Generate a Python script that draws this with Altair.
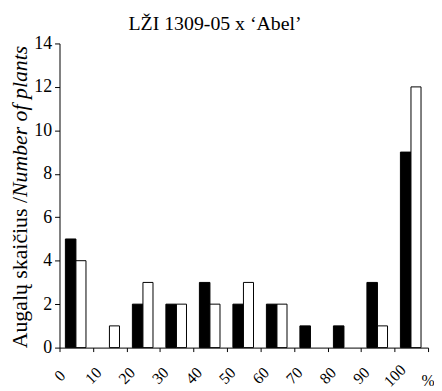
import altair as alt
import pandas as pd

bin_labels = ["0", "10", "20", "30", "40", "50", "60", "70", "80", "90", "100"]
black_counts = [5, 0, 2, 2, 3, 2, 2, 1, 1, 3, 9]
white_counts = [4, 1, 3, 2, 2, 3, 2, 0, 0, 1, 12]
y_ticks = [0, 2, 4, 6, 8, 10, 12, 14]

rows = []
for i, lab in enumerate(bin_labels):
    rows.append({"bin": i, "series": "black", "value": black_counts[i]})
    rows.append({"bin": i, "series": "white", "value": white_counts[i]})
df = pd.DataFrame(rows)
df = df[df["value"] > 0]

FONT = "Liberation Serif"
n = len(bin_labels)

xscale = alt.Scale(domain=[0, n + 0.0], nice=False, zero=False)
yscale = alt.Scale(domain=[0, 14], nice=False)

label_arr = "[" + ",".join("'" + s + "'" for s in bin_labels) + "]"

base = alt.Chart(df).transform_calculate(
    x0="datum.series == 'black' ? datum.bin + 0.175 : datum.bin + 0.49",
    x1="datum.series == 'black' ? datum.bin + 0.49 : datum.bin + 0.79",
)

bars = base.mark_bar(stroke="black", strokeWidth=1).encode(
    x=alt.X(
        "x0:Q",
        scale=xscale,
        axis=alt.Axis(
            values=list(range(n + 1)),
            labelExpr=f"datum.value < {n} ? {label_arr}[datum.value] : ''",
            labelAngle=-45,
            labelAlign="center",
            labelBaseline="middle",
            labelPadding=24,
            labelFont=FONT,
            labelFontSize=16,
            labelColor="black",
            tickColor="black",
            tickSize=4,
            domainColor="black",
            grid=False,
            title=None,
        ),
    ),
    x2="x1:Q",
    y=alt.Y(
        "value:Q",
        scale=yscale,
        axis=alt.Axis(
            values=y_ticks,
            labelFont=FONT,
            labelFontSize=18,
            labelColor="black",
            labelPadding=3,
            tickColor="black",
            tickSize=5,
            domainColor="black",
            grid=False,
            title=None,
        ),
    ),
    y2=alt.datum(0),
    fill=alt.Fill(
        "series:N",
        scale=alt.Scale(domain=["black", "white"], range=["black", "white"]),
        legend=None,
    ),
)

title_txt = alt.Chart(pd.DataFrame({"t": ["LŽI 1309-05 x ‘Abel’"]})).mark_text(
    font=FONT, fontSize=20, color="black", align="center", baseline="alphabetic"
).encode(text="t:N", x=alt.value(157), y=alt.value(-14))

ytitle_plain = alt.Chart(pd.DataFrame({"t": ["Augalų skaičius /\u00a0"]})).mark_text(
    font=FONT, fontSize=22, color="black", align="right", baseline="middle", angle=270
).encode(text="t:N", x=alt.value(-40), y=alt.value(155))

ytitle_italic = alt.Chart(pd.DataFrame({"t": ["Number of plants"]})).mark_text(
    font=FONT, fontSize=22, fontStyle="italic", color="black", align="left",
    baseline="middle", angle=270
).encode(text="t:N", x=alt.value(-40), y=alt.value(155))

pct = alt.Chart(pd.DataFrame({"t": ["%"]})).mark_text(
    font=FONT, fontSize=16, color="black", align="center", baseline="middle"
).encode(text="t:N", x=alt.value(372), y=alt.value(341))

chart = alt.layer(bars, title_txt, ytitle_plain, ytitle_italic, pct).properties(
    width=372,
    height=307,
    padding={"left": 52, "top": 34, "right": 6, "bottom": 40},
    autosize=alt.AutoSizeParams(type="none"),
).configure_view(stroke=None)

chart.save("out.html", embed_options={"renderer": "svg", "actions": False})
